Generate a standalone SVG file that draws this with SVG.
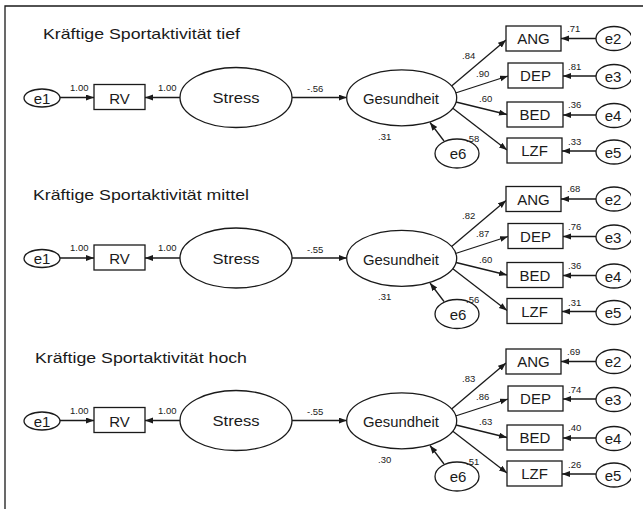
<svg xmlns="http://www.w3.org/2000/svg" width="643" height="509" viewBox="0 0 643 509">
<defs>
<style>
.ln{fill:none;stroke:#1a1a1a;stroke-width:1.3}
.ar{fill:none;stroke:#1a1a1a;stroke-width:1.3;marker-end:url(#ah)}
.sh{fill:#fff;stroke:#1a1a1a;stroke-width:1.3}
text{font-family:"Liberation Sans",Arial,sans-serif;fill:#1a1a1a}
.big{font-size:15px;text-anchor:middle}
.lab{font-size:9.5px}
.ttl{font-size:14.5px}
</style>
<marker id="ah" markerUnits="userSpaceOnUse" markerWidth="9" markerHeight="7" refX="8" refY="3" orient="auto">
<path d="M0,0 L8,3 L0,6 z" fill="#1a1a1a"/>
</marker>
<clipPath id="cut"><rect x="0" y="0" width="631" height="509"/></clipPath>
</defs>
<rect x="0" y="0" width="643" height="509" fill="#fff"/>
<path d="M5,509 L5,6 L643,6" class="ln" stroke-width="1.5"/>

<!-- Panel 1 -->
<g id="panel1">
<text class="ttl" x="43" y="39" textLength="197" lengthAdjust="spacingAndGlyphs">Kräftige Sportaktivität tief</text>
<g id="p1-connectors">
<path class="ar" d="M60,97.5 L94,97.5"/>
<path class="ar" d="M180,97.5 L145,97.5"/>
<path class="ar" d="M292,97.5 L346.7,97.5"/>
<path class="ar" d="M451.6,86 L506,40"/>
<path class="ar" d="M455.5,93 L508,76"/>
<path class="ar" d="M456,102 L507,114.5"/>
<path class="ar" d="M452.5,108 L507,150"/>
<path class="ar" d="M596,38.5 L561,38.5"/>
<path class="ar" d="M596,76 L563,76"/>
<path class="ar" d="M596,115 L563,115"/>
<path class="ar" d="M596,151 L562,151"/>
<path class="ar" d="M444,141 L430,122.5"/>
<text class="lab" x="70" y="90.5">1.00</text>
<text class="lab" x="158" y="90.5">1.00</text>
<text class="lab" x="307" y="92">-.56</text>
<text class="lab" x="462" y="58.5">.84</text>
<text class="lab" x="476" y="76.5">.90</text>
<text class="lab" x="479" y="102">.60</text>
<text class="lab" x="567" y="31.5">.71</text>
<text class="lab" x="568" y="69.5">.81</text>
<text class="lab" x="568" y="108">.36</text>
<text class="lab" x="568" y="145">.33</text>
<text class="lab" x="378" y="139.5">.31</text>
</g>
<g id="p1-e1"><ellipse class="sh" cx="42" cy="98" rx="18" ry="9"/><text class="big" x="42" y="103.5">e1</text></g>
<g id="p1-RV"><rect class="sh" x="94" y="84.5" width="51" height="25"/><text class="big" x="119.5" y="103.5">RV</text></g>
<g id="p1-Stress"><ellipse class="sh" cx="236" cy="97.5" rx="56" ry="30"/><text class="big" x="236" y="103" textLength="47" lengthAdjust="spacingAndGlyphs">Stress</text></g>
<g id="p1-Gesundheit"><ellipse class="sh" cx="401.7" cy="97.8" rx="55" ry="28"/><text class="big" x="401" y="104" textLength="76" lengthAdjust="spacingAndGlyphs">Gesundheit</text></g>
<g id="p1-ANG"><rect class="sh" x="506" y="26" width="55" height="25"/><text class="big" x="533.5" y="44">ANG</text></g>
<g id="p1-DEP"><rect class="sh" x="508" y="63" width="55" height="25"/><text class="big" x="535.5" y="81">DEP</text></g>
<g id="p1-BED"><rect class="sh" x="507" y="102" width="56" height="25"/><text class="big" x="535" y="120">BED</text></g>
<g id="p1-LZF"><rect class="sh" x="507" y="138" width="55" height="25"/><text class="big" x="534.5" y="156">LZF</text></g>
<g id="p1-e2" clip-path="url(#cut)"><ellipse class="sh" cx="614" cy="38.5" rx="18" ry="12"/><text class="big" x="613" y="44">e2</text></g>
<g id="p1-e3" clip-path="url(#cut)"><ellipse class="sh" cx="614" cy="76.5" rx="18" ry="12"/><text class="big" x="613" y="82">e3</text></g>
<g id="p1-e4" clip-path="url(#cut)"><ellipse class="sh" cx="614" cy="115.5" rx="18" ry="12"/><text class="big" x="613" y="121">e4</text></g>
<g id="p1-e5" clip-path="url(#cut)"><ellipse class="sh" cx="614" cy="152" rx="18" ry="12"/><text class="big" x="613" y="157.5">e5</text></g>
<g id="p1-e6"><ellipse class="sh" cx="457" cy="153.5" rx="22" ry="14.5"/><text class="big" x="458" y="159">e6</text></g>
<text class="lab" x="466" y="142">.58</text>
</g>

<!-- Panel 2 -->
<g id="panel2" transform="translate(0,160.5)">
<text class="ttl" x="33" y="39.5" textLength="216" lengthAdjust="spacingAndGlyphs">Kräftige Sportaktivität mittel</text>
<g id="p2-connectors">
<path class="ar" d="M60,97.5 L94,97.5"/>
<path class="ar" d="M180,97.5 L145,97.5"/>
<path class="ar" d="M292,97.5 L346.7,97.5"/>
<path class="ar" d="M451.6,86 L506,40"/>
<path class="ar" d="M455.5,93 L508,76"/>
<path class="ar" d="M456,102 L507,114.5"/>
<path class="ar" d="M452.5,108 L507,150"/>
<path class="ar" d="M596,38.5 L561,38.5"/>
<path class="ar" d="M596,76 L563,76"/>
<path class="ar" d="M596,115 L563,115"/>
<path class="ar" d="M596,151 L562,151"/>
<path class="ar" d="M444,141 L430,122.5"/>
<text class="lab" x="70" y="90.5">1.00</text>
<text class="lab" x="158" y="90.5">1.00</text>
<text class="lab" x="307" y="92">-.55</text>
<text class="lab" x="462" y="58.5">.82</text>
<text class="lab" x="476" y="76.5">.87</text>
<text class="lab" x="479" y="102">.60</text>
<text class="lab" x="567" y="31.5">.68</text>
<text class="lab" x="568" y="69.5">.76</text>
<text class="lab" x="568" y="108">.36</text>
<text class="lab" x="568" y="145">.31</text>
<text class="lab" x="378" y="139.5">.31</text>
</g>
<g id="p2-e1"><ellipse class="sh" cx="42" cy="98" rx="18" ry="9"/><text class="big" x="42" y="103.5">e1</text></g>
<g id="p2-RV"><rect class="sh" x="94" y="84.5" width="51" height="25"/><text class="big" x="119.5" y="103.5">RV</text></g>
<g id="p2-Stress"><ellipse class="sh" cx="236" cy="97.5" rx="56" ry="30"/><text class="big" x="236" y="103" textLength="47" lengthAdjust="spacingAndGlyphs">Stress</text></g>
<g id="p2-Gesundheit"><ellipse class="sh" cx="401.7" cy="97.8" rx="55" ry="28"/><text class="big" x="401" y="104" textLength="76" lengthAdjust="spacingAndGlyphs">Gesundheit</text></g>
<g id="p2-ANG"><rect class="sh" x="506" y="26" width="55" height="25"/><text class="big" x="533.5" y="44">ANG</text></g>
<g id="p2-DEP"><rect class="sh" x="508" y="63" width="55" height="25"/><text class="big" x="535.5" y="81">DEP</text></g>
<g id="p2-BED"><rect class="sh" x="507" y="102" width="56" height="25"/><text class="big" x="535" y="120">BED</text></g>
<g id="p2-LZF"><rect class="sh" x="507" y="138" width="55" height="25"/><text class="big" x="534.5" y="156">LZF</text></g>
<g id="p2-e2" clip-path="url(#cut)"><ellipse class="sh" cx="614" cy="38.5" rx="18" ry="12"/><text class="big" x="613" y="44">e2</text></g>
<g id="p2-e3" clip-path="url(#cut)"><ellipse class="sh" cx="614" cy="76.5" rx="18" ry="12"/><text class="big" x="613" y="82">e3</text></g>
<g id="p2-e4" clip-path="url(#cut)"><ellipse class="sh" cx="614" cy="115.5" rx="18" ry="12"/><text class="big" x="613" y="121">e4</text></g>
<g id="p2-e5" clip-path="url(#cut)"><ellipse class="sh" cx="614" cy="152" rx="18" ry="12"/><text class="big" x="613" y="157.5">e5</text></g>
<g id="p2-e6"><ellipse class="sh" cx="457" cy="153.5" rx="22" ry="14.5"/><text class="big" x="458" y="159">e6</text></g>
<text class="lab" x="466" y="142">.56</text>
</g>

<!-- Panel 3 -->
<g id="panel3" transform="translate(0,323)">
<text class="ttl" x="35" y="40" textLength="212" lengthAdjust="spacingAndGlyphs">Kräftige Sportaktivität hoch</text>
<g id="p3-connectors">
<path class="ar" d="M60,97.5 L94,97.5"/>
<path class="ar" d="M180,97.5 L145,97.5"/>
<path class="ar" d="M292,97.5 L346.7,97.5"/>
<path class="ar" d="M451.6,86 L506,40"/>
<path class="ar" d="M455.5,93 L508,76"/>
<path class="ar" d="M456,102 L507,114.5"/>
<path class="ar" d="M452.5,108 L507,150"/>
<path class="ar" d="M596,38.5 L561,38.5"/>
<path class="ar" d="M596,76 L563,76"/>
<path class="ar" d="M596,115 L563,115"/>
<path class="ar" d="M596,151 L562,151"/>
<path class="ar" d="M444,141 L430,122.5"/>
<text class="lab" x="70" y="90.5">1.00</text>
<text class="lab" x="158" y="90.5">1.00</text>
<text class="lab" x="307" y="92">-.55</text>
<text class="lab" x="462" y="58.5">.83</text>
<text class="lab" x="476" y="76.5">.86</text>
<text class="lab" x="479" y="102">.63</text>
<text class="lab" x="567" y="31.5">.69</text>
<text class="lab" x="568" y="69.5">.74</text>
<text class="lab" x="568" y="108">.40</text>
<text class="lab" x="568" y="145">.26</text>
<text class="lab" x="378" y="139.5">.30</text>
</g>
<g id="p3-e1"><ellipse class="sh" cx="42" cy="98" rx="18" ry="9"/><text class="big" x="42" y="103.5">e1</text></g>
<g id="p3-RV"><rect class="sh" x="94" y="84.5" width="51" height="25"/><text class="big" x="119.5" y="103.5">RV</text></g>
<g id="p3-Stress"><ellipse class="sh" cx="236" cy="97.5" rx="56" ry="30"/><text class="big" x="236" y="103" textLength="47" lengthAdjust="spacingAndGlyphs">Stress</text></g>
<g id="p3-Gesundheit"><ellipse class="sh" cx="401.7" cy="97.8" rx="55" ry="28"/><text class="big" x="401" y="104" textLength="76" lengthAdjust="spacingAndGlyphs">Gesundheit</text></g>
<g id="p3-ANG"><rect class="sh" x="506" y="26" width="55" height="25"/><text class="big" x="533.5" y="44">ANG</text></g>
<g id="p3-DEP"><rect class="sh" x="508" y="63" width="55" height="25"/><text class="big" x="535.5" y="81">DEP</text></g>
<g id="p3-BED"><rect class="sh" x="507" y="102" width="56" height="25"/><text class="big" x="535" y="120">BED</text></g>
<g id="p3-LZF"><rect class="sh" x="507" y="138" width="55" height="25"/><text class="big" x="534.5" y="156">LZF</text></g>
<g id="p3-e2" clip-path="url(#cut)"><ellipse class="sh" cx="614" cy="38.5" rx="18" ry="12"/><text class="big" x="613" y="44">e2</text></g>
<g id="p3-e3" clip-path="url(#cut)"><ellipse class="sh" cx="614" cy="76.5" rx="18" ry="12"/><text class="big" x="613" y="82">e3</text></g>
<g id="p3-e4" clip-path="url(#cut)"><ellipse class="sh" cx="614" cy="115.5" rx="18" ry="12"/><text class="big" x="613" y="121">e4</text></g>
<g id="p3-e5" clip-path="url(#cut)"><ellipse class="sh" cx="614" cy="152" rx="18" ry="12"/><text class="big" x="613" y="157.5">e5</text></g>
<g id="p3-e6"><ellipse class="sh" cx="457" cy="153.5" rx="22" ry="14.5"/><text class="big" x="458" y="159">e6</text></g>
<text class="lab" x="466" y="142">.51</text>
</g>
</svg>
